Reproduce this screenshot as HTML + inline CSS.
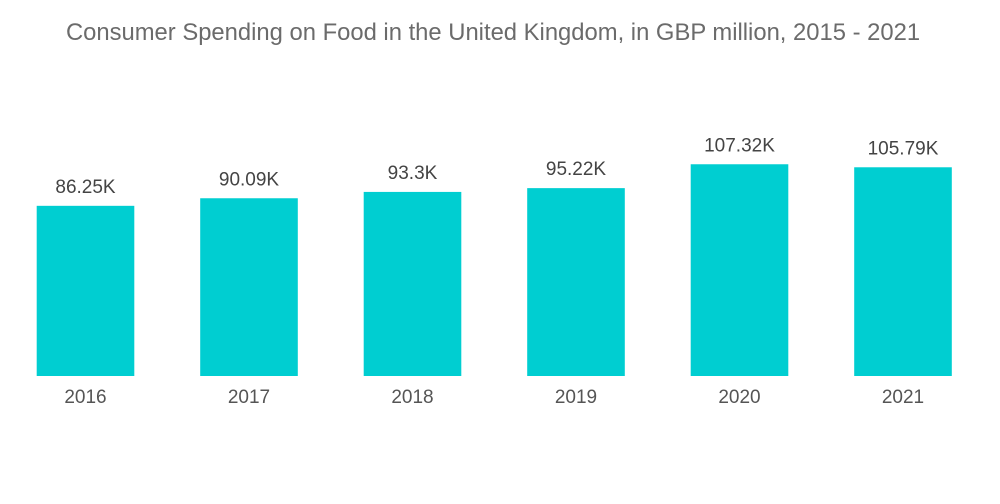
<!DOCTYPE html>
<html><head><meta charset="utf-8"><style>
html,body{margin:0;padding:0;background:#fff;}
svg{display:block;font-family:"Liberation Sans",sans-serif;}
</style></head><body>
<svg width="1000" height="504" viewBox="0 0 1000 504">
<text x="493" y="40" text-anchor="middle" font-size="23.8" fill="#6b6b6b">Consumer Spending on Food in the United Kingdom, in GBP million, 2015 - 2021</text>
<g id="bars"></g>
</svg>
<script>
const categories = ["2016","2017","2018","2019","2020","2021"];
const values = [86.25, 90.09, 93.3, 95.22, 107.32, 105.79];
const valueLabels = ["86.25K","90.09K","93.3K","95.22K","107.32K","105.79K"];
const NS = "http://www.w3.org/2000/svg";
const baseY = 376, pxPerUnit = 1.973;
const x0 = 36.7, step = 163.5, bw = 97.6;
function yScale(v){ return baseY - v * pxPerUnit; }
function xScale(i){ return x0 + i * step; }
const g = document.getElementById("bars");
categories.forEach((c, i) => {
  const x = xScale(i), y = yScale(values[i]);
  const r = document.createElementNS(NS, "rect");
  r.setAttribute("x", x); r.setAttribute("y", y);
  r.setAttribute("width", bw); r.setAttribute("height", baseY - y);
  r.setAttribute("fill", "#00ced1");
  
  
  g.appendChild(r);
  const t = document.createElementNS(NS, "text");
  t.setAttribute("x", x + bw / 2); t.setAttribute("y", y - 13);
  t.setAttribute("text-anchor", "middle"); t.setAttribute("font-size", "19");
  t.setAttribute("fill", "#444");
  t.textContent = valueLabels[i];
  
  
  g.appendChild(t);
  const l = document.createElementNS(NS, "text");
  l.setAttribute("x", x + bw / 2); l.setAttribute("y", 403);
  l.setAttribute("text-anchor", "middle"); l.setAttribute("font-size", "19");
  l.setAttribute("fill", "#555");
  l.textContent = c;
  
  
  g.appendChild(l);
});
</script>
</body></html>
